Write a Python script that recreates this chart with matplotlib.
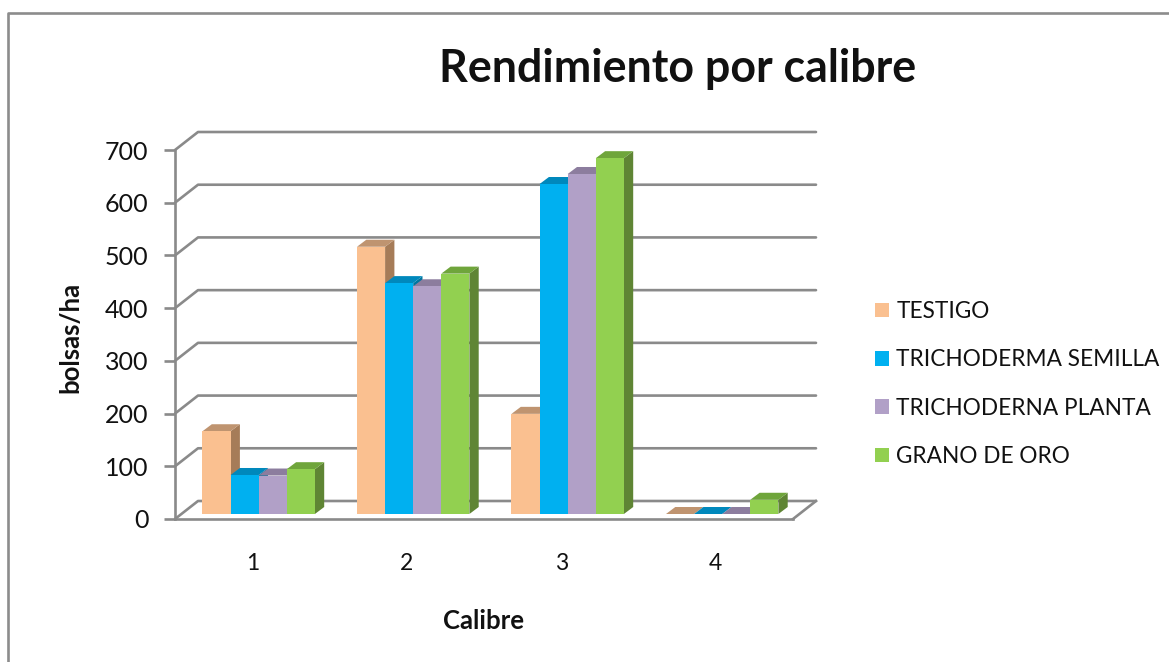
import matplotlib
matplotlib.use("Agg")
import matplotlib.pyplot as plt
from matplotlib.lines import Line2D
from matplotlib.patches import Patch

categories = ["1", "2", "3", "4"]
testigo = [157, 507, 190, 0]
trichoderma_semilla = [74, 438, 626, 0]
trichoderna_planta = [73, 432, 645, 0]
grano_de_oro = [85, 456, 675, 27]
series_names = ["TESTIGO", "TRICHODERMA SEMILLA", "TRICHODERNA PLANTA", "GRANO DE ORO"]
y_ticks = [0, 100, 200, 300, 400, 500, 600, 700]

front = ["#FAC090", "#00B0F0", "#B1A0C7", "#92D050"]
top = ["#BF9470", "#0088BC", "#8C7D9E", "#6FA53B"]
side = ["#A67C58", "#00769F", "#7A6C8A", "#5F8534"]
GRID = "#8A8A8A"
LW = 1.9

W, H = 1169, 662
plt.rcParams["font.family"] = ["Lato", "DejaVu Sans"]
fig = plt.figure(figsize=(W / 100, H / 100), dpi=100, facecolor="white")
L, R, T, B = 175, 793, 150, 519
ax = fig.add_axes([L / W, 1 - B / H, (R - L) / W, (B - T) / H])
ax.set_xlim(0, len(categories))
ax.set_ylim(0, 700)
ax.patch.set_alpha(0)

px_x = len(categories) / (R - L)
px_y = 700 / (B - T)

# wall depth, bar depth, and floor lift of bars
wall_dx, wall_dy = 23 * px_x, 18 * px_y
bar_dx, bar_dy = 9.3 * px_x, 7 * px_y
lift = 5 * px_y
bar_w = 28.1 * px_x
left_pad = 27.5 * px_x

for s in ["top", "right"]:
    ax.spines[s].set_visible(False)
for s in ["left", "bottom"]:
    ax.spines[s].set_color(GRID)
    ax.spines[s].set_linewidth(LW)
    ax.spines[s].set_zorder(1)

# back wall gridlines
n = len(categories)
for v in y_ticks:
    ax.plot([0, wall_dx, n + wall_dx], [v, v + wall_dy, v + wall_dy],
            color=GRID, lw=LW, clip_on=False, zorder=1, solid_capstyle="round")
ax.plot([n, n + wall_dx], [0, wall_dy], color=GRID, lw=LW, clip_on=False, zorder=1)

# bars
series = [testigo, trichoderma_semilla, trichoderna_planta, grano_de_oro]
z = 3
for c in range(n):
    for j, vals in enumerate(series):
        x0 = c + left_pad + j * bar_w
        x1 = x0 + bar_w
        v = vals[c]
        y0 = lift
        y1 = lift + v
        ax.fill([x1, x1 + bar_dx, x1 + bar_dx, x1],
                [y0, y0 + bar_dy, y1 + bar_dy, y1],
                color=side[j], lw=0, clip_on=False, zorder=z)
        ax.fill([x0, x1, x1 + bar_dx, x0 + bar_dx],
                [y1, y1, y1 + bar_dy, y1 + bar_dy],
                color=top[j], lw=0, clip_on=False, zorder=z + 0.1)
        if v > 0:
            ax.bar(x0, v, width=bar_w, bottom=lift, align="edge",
                   color=front[j], lw=0, clip_on=False, zorder=z + 0.2)
        z += 1

ax.set_xticks([c + 0.5 for c in range(n)], categories)
ax.set_yticks(y_ticks)
ax.tick_params(axis="x", length=0, pad=24.5, labelsize=16.5, labelcolor="#111111")
ax.tick_params(axis="y", length=8, width=LW, color=GRID, pad=11, labelsize=18, labelcolor="#111111")

ax.set_xlabel("Calibre", fontsize=18.5, fontweight="bold", labelpad=25.5, color="#111111",
              x=(483 - L) / (R - L))
ax.set_ylabel("bolsas/ha", fontsize=18.5, fontweight="bold", color="#111111")
ax.yaxis.set_label_coords((82 - L) / (R - L), (B - 337) / (B - T))
ax.set_title("Rendimiento por calibre", fontsize=32.2, fontweight="bold", color="#111111",
             x=(678 - L) / (R - L), y=(B - 82) / (B - T), pad=0)

handles = [Patch(facecolor=col, edgecolor="none") for col in front]
leg = ax.legend(handles, series_names, loc="center left", frameon=False,
                bbox_to_anchor=((875 - L) / (R - L), (B - 384) / (B - T)),
                fontsize=16.3, labelspacing=1.21, handlelength=0.61, handleheight=0.61,
                handletextpad=0.33, borderpad=0, borderaxespad=0, labelcolor="#111111")

# chart-area frame
fig.add_artist(Line2D([8 / W, 8 / W, 1], [0, 1 - 13 / H, 1 - 13 / H], color="#8C8C8C", lw=LW))

fig.savefig("out.png", dpi=100, facecolor="white")
